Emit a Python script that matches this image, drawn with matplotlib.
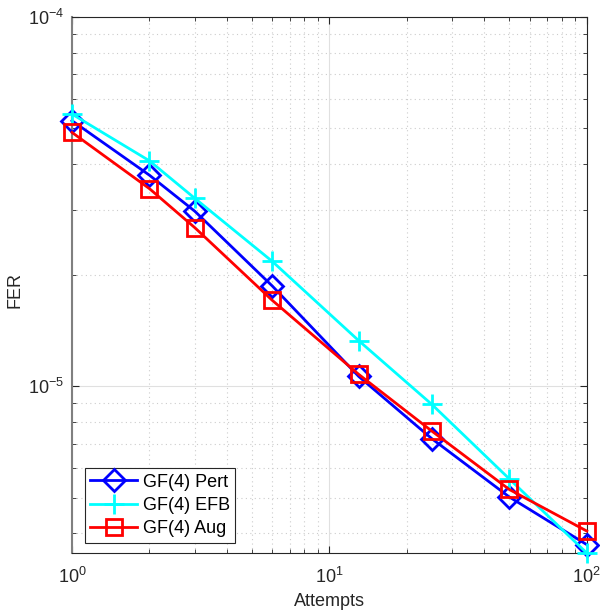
import matplotlib
matplotlib.use("Agg")
from matplotlib import pyplot as plt
import numpy as np

plt.rcParams['font.family'] = ['Liberation Sans', 'DejaVu Sans']

# attempts on x, FER on y
attempts = [1, 2, 3, 6, 13, 25, 50, 100]
fer_pert = [5.24e-5, 3.73e-5, 2.98e-5, 1.87e-5, 1.064e-5, 7.22e-6, 5.02e-6, 3.73e-6]
fer_efb = [5.46e-5, 4.08e-5, 3.23e-5, 2.18e-5, 1.33e-5, 8.94e-6, 5.62e-6, 3.54e-6]
fer_aug = [4.87e-5, 3.43e-5, 2.69e-5, 1.71e-5, 1.078e-5, 7.57e-6, 5.26e-6, 4.06e-6]
labels = ["GF(4) Pert", "GF(4) EFB", "GF(4) Aug"]

fig = plt.figure(figsize=(6, 6.14), dpi=100)
ax = fig.add_axes([0.12, 0.0993, 0.858, 0.873])

ax.loglog(attempts, fer_pert, '-D', color='#0000ff', lw=2, ms=11,
          mfc='none', mew=2, label=labels[0], clip_on=False, zorder=3)
ax.loglog(attempts, fer_efb, '-+', color='#00ffff', lw=2, ms=14,
          mew=2, label=labels[1], clip_on=False, zorder=3)
ax.loglog(attempts, fer_aug, '-s', color='#ff0000', lw=2, ms=11,
          mfc='none', mew=2, label=labels[2], clip_on=False, zorder=3)

ax.set_xlim(1, 100)
ax.set_ylim(3.54e-6, 1e-4)

ax.grid(True, which='major', color='#e0e0e0', ls='-', lw=0.8)
ax.grid(True, which='minor', color='#cccccc', ls=(0, (1, 3)), lw=0.8)
ax.set_axisbelow(True)
ax.tick_params(which='both', direction='in', top=True, right=True,
               colors='#262626', labelsize=13)
ax.tick_params(axis='x', which='major', pad=10)
ax.tick_params(axis='y', which='major', pad=6)
ax.tick_params(which='major', length=5)
ax.tick_params(which='minor', length=3)
for s in ax.spines.values():
    s.set_color('#262626')
    s.set_linewidth(0.8)
ax.spines['left'].set_color('#808080')
ax.spines['left'].set_linewidth(1.5)

ax.set_xlabel("Attempts", fontsize=13, color='#262626')
ax.xaxis.set_label_coords(0.5, -0.075)
ax.set_ylabel("FER", fontsize=13, color='#262626')
ax.yaxis.set_label_coords(-0.095, 0.49)

leg = ax.legend(loc='lower left', fontsize=13, fancybox=False, framealpha=1,
                edgecolor='#262626', handlelength=2.6, borderpad=0.3,
                labelspacing=0.35, handletextpad=0.3, borderaxespad=0,
                bbox_to_anchor=(0.025, 0.019))
leg.get_frame().set_linewidth(0.8)

fig.savefig("out.png", dpi=100)
